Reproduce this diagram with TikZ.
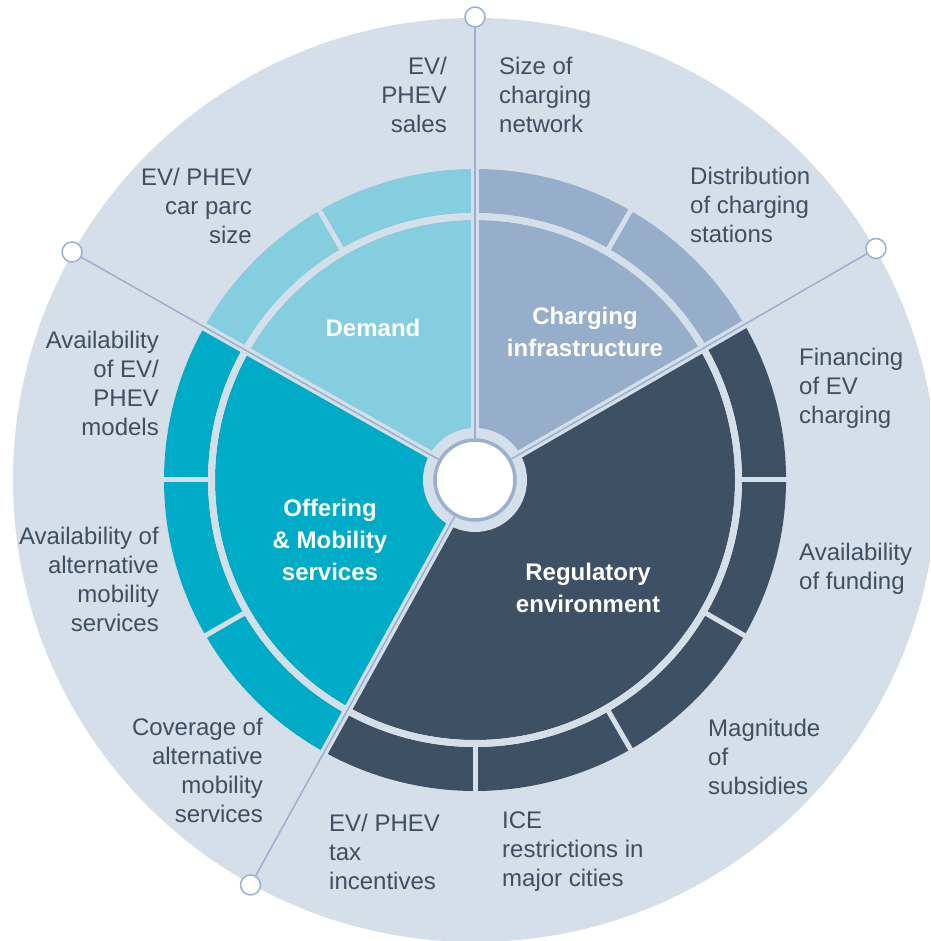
\documentclass[tikz,border=0pt]{standalone}
\usepackage{fontspec}
\setmainfont{Liberation Sans}
\usetikzlibrary{calc}
\definecolor{bgblue}{HTML}{D5DFE9}
\definecolor{demandc}{HTML}{85CEDF}
\definecolor{chargec}{HTML}{97AECA}
\definecolor{regc}{HTML}{3E5063}
\definecolor{offerc}{HTML}{00ABC8}
\definecolor{linec}{HTML}{9AB0CE}
\definecolor{textc}{HTML}{3E4F61}
% wedge: colour, start angle, end angle
\newcommand{\wedgepart}[3]{\fill[#1] (0,0) -- (#2:260) arc[start angle=#2, end angle=#3, radius=260pt] -- cycle;}
% ring segment: colour, start angle, end angle
\newcommand{\ringpart}[3]{\fill[#1] (#2:267) arc[start angle=#2, end angle=#3, radius=267pt] -- (#3:311) arc[start angle=#3, end angle=#2, radius=311pt] -- cycle;}

\begin{document}
\begin{tikzpicture}[x=1pt,y=1pt,
  lbl/.style={text=textc,inner sep=0pt,font=\fontsize{24}{29}\selectfont},
  head/.style={text=white,inner sep=0pt,align=center,font=\fontsize{24}{32}\selectfont\bfseries},
  pin/.style={shape=circle,fill=white,draw=linec,line width=1.5pt,minimum size=20pt,inner sep=0pt}]
  \useasboundingbox (0,0) rectangle (930,941);
  \clip (0,0) rectangle (930,941);
  \fill[bgblue] (475,461) circle[radius=462pt];
  \begin{scope}[shift={(475,461)}]
    \wedgepart{demandc}{90}{150.5}
    \wedgepart{chargec}{30}{90}
    \wedgepart{regc}{-119}{30}
    \wedgepart{offerc}{150.5}{241}
    \ringpart{demandc}{90}{150.5}
    \ringpart{chargec}{30}{90}
    \ringpart{regc}{-119}{30}
    \ringpart{offerc}{150.5}{241}
    % gaps
    \draw[bgblue,line width=7pt] (0,0) circle[radius=263.5pt];
    \foreach \a in {120,60,0,-30,-60,-90,180,210}
      \draw[bgblue,line width=5pt] (\a:264) -- (\a:318);
    \foreach \a in {90,30,150.5,241}
      \draw[bgblue,line width=8pt] (0,0) -- (\a:318);
    \fill[bgblue] (0,0) circle[radius=52pt];
  \end{scope}

  \node[shape=circle,fill=white,draw=linec,line width=3.5pt,minimum size=80pt,inner sep=0pt] (hub) at (475,461) {};
  \node[pin] (pinN) at (475,924) {};
  \node[pin] (pinE) at ($(475,461)+(30:463)$) {};
  \node[pin] (pinW) at ($(475,461)+(150.5:463)$) {};
  \node[pin] (pinS) at ($(475,461)+(241:463)$) {};
  \path[draw=linec,line width=1.5pt] (hub) -- (pinN);
  \path[draw=linec,line width=1.5pt] (hub) -- (pinE);
  \path[draw=linec,line width=1.5pt] (hub) -- (pinW);
  \path[draw=linec,line width=1.5pt] (hub) -- (pinS);

  \node[head] (demand) at (373,613) {Demand};
  \node[head] (charging) at (585,609) {Charging\\infrastructure};
  \node[head] (offering) at (330,401) {Offering\\\& Mobility\\services};
  \node[head] (regulatory) at (588,353) {Regulatory\\environment};

  \node[lbl,anchor=east,align=right] (sales) at (447,846) {EV/\\PHEV\\sales};
  \node[lbl,anchor=west,align=left] (network) at (499,846) {Size of\\charging\\network};
  \node[lbl,anchor=east,align=right] (parc) at (252,735) {EV/ PHEV\\car parc\\size};
  \node[lbl,anchor=west,align=left] (stations) at (690,736) {Distribution\\of charging\\stations};
  \node[lbl,anchor=east,align=right] (models) at (159,558) {Availability\\of EV/\\PHEV\\models};
  \node[lbl,anchor=west,align=left] (financing) at (799,553) {Financing\\of EV\\charging};
  \node[lbl,anchor=east,align=right] (altmob) at (159,362) {Availability of\\alternative\\mobility\\services};
  \node[lbl,anchor=west,align=left] (funding) at (799,372) {Availability\\of funding};
  \node[lbl,anchor=east,align=right] (coverage) at (263,171) {Coverage of\\alternative\\mobility\\services};
  \node[lbl,anchor=west,align=left] (subsidies) at (708,184) {Magnitude\\of\\subsidies};
  \node[lbl,anchor=west,align=left] (tax) at (329,89) {EV/ PHEV\\tax\\incentives};
  \node[lbl,anchor=west,align=left] (ice) at (502,89) {ICE\\restrictions in\\major cities};
\end{tikzpicture}
\end{document}
